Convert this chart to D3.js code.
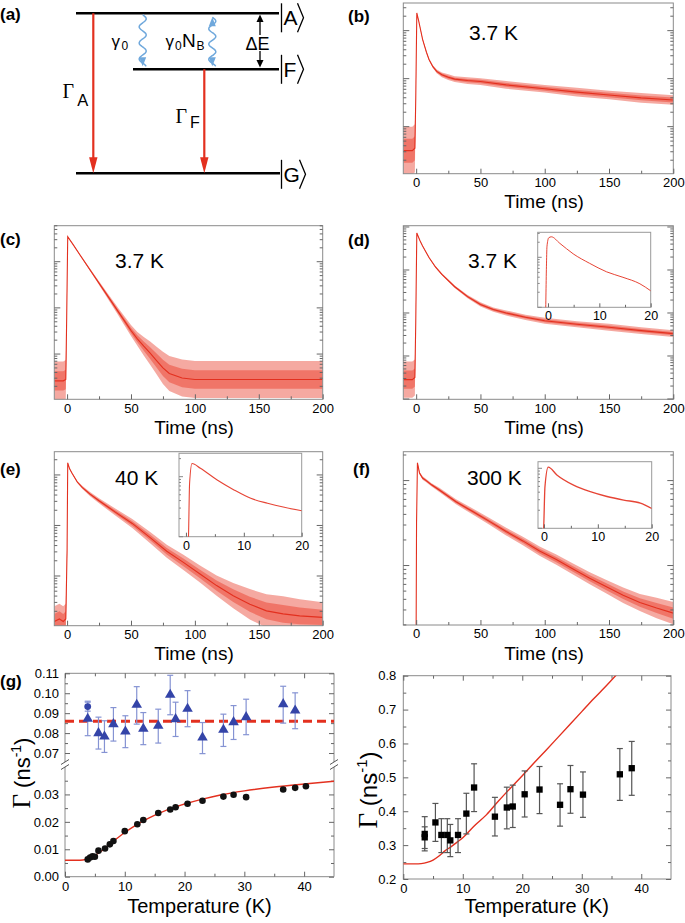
<!DOCTYPE html>
<html><head><meta charset="utf-8">
<script src="https://cdn.jsdelivr.net/npm/d3@7/dist/d3.min.js"></script>
<style>
html,body{margin:0;padding:0;background:#fff;}
svg{display:block;}
</style></head>
<body>
<svg id="fig" width="685" height="923" xmlns="http://www.w3.org/2000/svg"></svg>
<script>
// ================= DATA =================
// Decay traces: time (ns), log10 of counts, noise half-width (decades)
const bTime  = [-10,-6,-3,-1,-0.3,0.5,2,5,8,10,13,16,20,25,30,40,50,70,100,125,150,175,200];
const bLog   = [0.5,0.5,0.5,0.55,1.6,3.37,3.2,2.82,2.55,2.40,2.25,2.15,2.08,2.03,1.99,1.96,1.94,1.87,1.79,1.72,1.66,1.60,1.555];
const bNoise = [0.5,0.5,0.5,0.5,0.1,0.01,0.01,0.02,0.02,0.02,0.03,0.04,0.05,0.06,0.06,0.07,0.07,0.08,0.08,0.09,0.09,0.1,0.1];

const cTime  = [-10,-6,-3,-1,-0.3,0.5,5,10,20,30,40,50,55,60,65,70,75,80,90,100,125,150,175,200];
const cLog   = [0.42,0.42,0.42,0.45,1.8,3.54,3.36,3.15,2.74,2.33,1.92,1.51,1.33,1.17,1.02,0.86,0.70,0.58,0.48,0.45,0.45,0.45,0.45,0.45];
const cNoise = [0.42,0.42,0.42,0.42,0.1,0.01,0.01,0.015,0.03,0.05,0.08,0.12,0.15,0.2,0.25,0.3,0.35,0.38,0.4,0.4,0.4,0.4,0.4,0.4];

const dTime  = [-10,-6,-3,-1,-0.3,0.5,3,5,10,15,20,30,40,50,60,70,85,100,125,150,175,200];
const dLog   = [0.45,0.45,0.45,0.5,1.8,3.86,3.68,3.56,3.29,3.07,2.90,2.61,2.38,2.20,2.08,2.00,1.90,1.82,1.74,1.67,1.59,1.52];
const dNoise = [0.42,0.42,0.42,0.42,0.1,0.01,0.01,0.01,0.015,0.02,0.025,0.03,0.04,0.05,0.05,0.06,0.06,0.07,0.07,0.08,0.08,0.08];

const eTime  = [-10,-6,-3,-1,0,0.5,2,4,8,12,18,25,38,51,65,78,91,104,117,130,143,156,169,182,200];
const eLog   = [0.1,0.15,0.1,0.15,1.5,3.24,3.12,3.03,2.86,2.75,2.62,2.49,2.26,2.04,1.76,1.49,1.27,1.04,0.81,0.61,0.44,0.31,0.25,0.21,0.18];
const eNoise = [0.3,0.3,0.3,0.3,0.1,0.01,0.01,0.015,0.02,0.03,0.04,0.05,0.07,0.09,0.11,0.13,0.15,0.17,0.2,0.25,0.3,0.33,0.35,0.33,0.3];

const fTime  = [-10,-1,0,0.3,1,2.6,5,7.8,12,18,31,44,57,70,83,96,109,122,135,148,161,174,187,200];
const fLog   = [0.1,0.1,0.3,1.5,2.21,2.09,2.03,2.0,1.95,1.89,1.75,1.635,1.52,1.40,1.29,1.17,1.07,0.96,0.85,0.75,0.65,0.565,0.50,0.44];
const fNoise = [0,0,0,0.02,0.01,0.015,0.02,0.02,0.02,0.025,0.03,0.035,0.04,0.045,0.05,0.055,0.06,0.065,0.07,0.08,0.09,0.1,0.12,0.13];

// insets (first 20 ns)
const dInTime = [-2,-0.5,-0.3,-0.2,0.15,0.65,2.3,4.9,8.1,11.4,14.6,17.9,20];
const dInLog  = [-0.5,-0.2,0.81,1.21,1.39,1.41,1.28,1.07,0.88,0.71,0.60,0.47,0.33];
const eInTime = [-1.2,0.4,0.63,1.05,2.5,5.4,8.3,11.2,14.1,17,20];
const eInLog  = [-0.5,-0.1,0.89,1.22,1.14,0.945,0.78,0.64,0.557,0.49,0.433];
const fInTime = [-1.1,-0.1,0.19,0.8,2.4,5.5,8.6,11.7,14.8,17.9,20];
const fInLog  = [-0.5,-0.1,0.69,1.02,0.89,0.72,0.61,0.53,0.47,0.42,0.33];

const timeTicks = [0,50,100,150,200];
const insetTicks = [0,10,20];

// (g) left: blue triangles (upper), blue circle, black dots (lower), fit
const gTriT  = [3.8,5.6,6.6,8.1,10.1,12.0,13.1,15.6,17.6,18.5,20.5,23.0,26.5,28.2,30.3,36.5,38.5];
const gTriV  = [0.0872,0.080,0.0783,0.0845,0.0808,0.0942,0.0822,0.0837,0.0992,0.087,0.0922,0.0778,0.0817,0.0855,0.088,0.0945,0.0913];
const gTriLo = [0.0787,0.072,0.0703,0.076,0.0727,0.0845,0.0742,0.075,0.0892,0.0783,0.0832,0.0697,0.0733,0.0768,0.0792,0.085,0.0822];
const gTriHi = [0.0955,0.088,0.0862,0.0928,0.0887,0.1033,0.0903,0.092,0.109,0.0955,0.1013,0.0853,0.0895,0.0938,0.097,0.1035,0.1002];
const gCircT = [3.8], gCircV = [0.0933], gCircLo = [0.0910], gCircHi = [0.0960];
const gDashV = 0.086;
const gDotT = [3.8,4.2,4.6,5.0,5.6,6.7,7.5,8.1,10.0,12.1,13.1,15.6,17.6,18.5,20.5,23.0,26.5,28.2,30.3,36.5,38.5,40.3];
const gDotV = [0.0063,0.0070,0.0074,0.0073,0.0095,0.0103,0.0118,0.0130,0.0166,0.0191,0.0207,0.0232,0.0245,0.0253,0.0266,0.0277,0.0292,0.0299,0.0290,0.0318,0.0324,0.0330];
const gFitT = [0,1,2,3,3.5,4,5,6,7,8,9,10,12,14,16,18,20,23,26,30,35,40,45];
const gFitV = [0.0060,0.0060,0.0060,0.0061,0.0063,0.0066,0.0078,0.0092,0.0110,0.0128,0.0145,0.0161,0.0190,0.0214,0.0234,0.0251,0.0265,0.0283,0.0298,0.0313,0.0327,0.0338,0.0348];
const gUpperTicks = [0.07,0.08,0.09,0.10,0.11];
const gLowerTicks = [0.00,0.01,0.02,0.03];
const tempTicks = [0,10,20,30,40];

// (g) right: black squares with error bars, fit
const rSqT  = [3.6,3.6,5.4,6.4,7.4,7.9,9.2,10.6,11.9,15.4,17.4,18.4,20.4,22.9,26.35,28.1,30.2,36.4,38.4];
const rSqV  = [0.333,0.323,0.367,0.330,0.330,0.314,0.330,0.393,0.470,0.384,0.411,0.414,0.450,0.464,0.419,0.465,0.449,0.509,0.527];
const rSqLo = [0.283,0.290,0.311,0.278,0.278,0.266,0.278,0.333,0.399,0.327,0.348,0.352,0.383,0.393,0.356,0.394,0.382,0.432,0.447];
const rSqHi = [0.384,0.354,0.423,0.378,0.378,0.361,0.378,0.453,0.540,0.441,0.471,0.477,0.519,0.532,0.481,0.535,0.516,0.585,0.606];
const rFitT = [0,2,3,4,5,6,7,8,9,10,12,14,16,18,20,22,24,26,28,30,32,34,36];
const rFitV = [0.2445,0.2445,0.2455,0.249,0.256,0.268,0.283,0.295,0.308,0.322,0.358,0.39,0.43,0.468,0.505,0.543,0.58,0.618,0.656,0.694,0.732,0.768,0.806];
const rTicks = [0.2,0.3,0.4,0.5,0.6,0.7,0.8];

// ================= DRAWING =================
const FONT = '"Liberation Sans", Arial, Helvetica, sans-serif';
const SERIF = '"Liberation Serif", "Times New Roman", serif';
const RED = '#e3301f', BAND = '#ec5443', FRAME = '#8a8a8a', TICK = '#666';
const svg = d3.select('#fig').attr('font-family', FONT);
const defs = svg.append('defs');
let clipN = 0;
function clip(x0, y0, x1, y1) {
  const id = 'clip' + (clipN++);
  defs.append('clipPath').attr('id', id).append('rect')
    .attr('x', x0).attr('y', y0).attr('width', x1 - x0).attr('height', y1 - y0);
  return `url(#${id})`;
}
function txt(g, x, y, s, size, opts = {}) {
  return g.append('text').attr('x', x).attr('y', y).attr('font-size', size)
    .attr('text-anchor', opts.anchor || 'start').attr('font-weight', opts.weight || 'normal')
    .attr('font-family', opts.family || FONT).attr('fill', '#000').text(s);
}
function styleAxis(sel, size) {
  sel.attr('font-family', FONT);
  sel.select('.domain').remove();
  sel.selectAll('line').attr('stroke', TICK);
  sel.selectAll('text').attr('font-size', size).attr('fill', '#000');
}
function logTicksV(g, y, xEdge, dir) {
  y.ticks().forEach(v => {
    const l = Math.log10(v);
    const major = Math.abs(l - Math.round(l)) < 1e-6;
    const len = major ? 6 : 3;
    g.append('line').attr('x1', xEdge).attr('x2', xEdge + dir * len)
      .attr('y1', y(v)).attr('y2', y(v)).attr('stroke', TICK).attr('stroke-width', 1);
  });
}
function panelLabel(x, y, s) { txt(svg, x, y, s, 17, { weight: 'bold' }); }

function decay(p) {
  const x = d3.scaleLinear().domain([-10, 200]).range([p.x0, p.x1]);
  const y = d3.scaleLog().domain([Math.pow(10, p.lo), Math.pow(10, p.hi)]).range([p.y1, p.y0]);
  const g = svg.append('g');
  const data = p.t.map((t, i) => ({ t, L: p.L[i], n: p.n[i] }));
  const pg = g.append('g').attr('clip-path', clip(p.x0, p.y0, p.x1, p.y1));
  // outer (sparse) and inner (dense) noise envelopes
  pg.append('path').datum(data)
    .attr('d', d3.area().x(d => x(d.t)).y0(d => y(Math.pow(10, d.L - d.n))).y1(d => y(Math.pow(10, d.L + d.n))))
    .attr('fill', BAND).attr('opacity', 0.5);
  pg.append('path').datum(data)
    .attr('d', d3.area().x(d => x(d.t)).y0(d => y(Math.pow(10, d.L - d.n * 0.5))).y1(d => y(Math.pow(10, d.L + d.n * 0.5))))
    .attr('fill', BAND).attr('opacity', 0.6);
  pg.append('path').datum(data)
    .attr('d', d3.line().x(d => x(d.t)).y(d => y(Math.pow(10, d.L))))
    .attr('fill', 'none').attr('stroke', RED).attr('stroke-width', 1.1);
  g.append('rect').attr('x', p.x0).attr('y', p.y0).attr('width', p.x1 - p.x0).attr('height', p.y1 - p.y0)
    .attr('fill', 'none').attr('stroke', FRAME).attr('stroke-width', 1);
  const xa = g.append('g').attr('transform', `translate(0,${p.y1})`)
    .call(d3.axisBottom(x).tickValues(timeTicks).tickSize(-5).tickPadding(4).tickSizeOuter(0));
  styleAxis(xa, 13);
  const xm = g.append('g').attr('transform', `translate(0,${p.y1})`)
    .call(d3.axisBottom(x).tickValues([25, 75, 125, 175]).tickSize(-3).tickFormat('').tickSizeOuter(0));
  styleAxis(xm, 13);
  logTicksV(g, y, p.x0, 1);
  logTicksV(g, y, p.x1, -1);
  txt(g, p.xl, p.xlY, 'Time (ns)', 19, { anchor: 'middle' });
  txt(g, p.tx, p.ty, p.temp, 21);
  if (p.inset) inset(p.inset);
}

function inset(q) {
  const x = d3.scaleLinear().domain([q.xmin, 20]).range([q.x0, q.x1]);
  const y = d3.scaleLog().domain([1, Math.pow(10, q.hi)]).range([q.y1, q.y0]);
  const g = svg.append('g');
  g.append('rect').attr('x', q.x0).attr('y', q.y0).attr('width', q.x1 - q.x0).attr('height', q.y1 - q.y0)
    .attr('fill', '#fff').attr('stroke', '#999').attr('stroke-width', 1);
  const data = q.t.map((t, i) => ({ t, L: q.L[i] }));
  g.append('g').attr('clip-path', clip(q.x0, q.y0, q.x1, q.y1)).append('path').datum(data)
    .attr('d', d3.line().curve(d3.curveMonotoneX).x(d => x(d.t)).y(d => y(Math.pow(10, d.L))))
    .attr('fill', 'none').attr('stroke', RED).attr('stroke-width', q.w || 1).attr('opacity', 0.9);
  const xa = g.append('g').attr('transform', `translate(0,${q.y1})`)
    .call(d3.axisBottom(x).tickValues(insetTicks).tickSize(-4).tickPadding(4).tickSizeOuter(0));
  styleAxis(xa, 12.5);
  const xm = g.append('g').attr('transform', `translate(0,${q.y1})`)
    .call(d3.axisBottom(x).tickValues([5, 15]).tickSize(-2.5).tickFormat('').tickSizeOuter(0));
  styleAxis(xm, 12);
  y.ticks().forEach(v => {
    const l = Math.log10(v);
    const major = Math.abs(l - Math.round(l)) < 1e-6;
    g.append('line').attr('x1', q.x0).attr('x2', q.x0 + (major ? 4 : 2))
      .attr('y1', y(v)).attr('y2', y(v)).attr('stroke', '#888');
  });
}

// ---------- (a) level diagram ----------
(function () {
  const g = svg.append('g');
  panelLabel(0, 20, '(a)');
  const lvA = 13.3, lvF = 69.3, lvG = 173.3;
  g.append('line').attr('x1', 76).attr('x2', 279).attr('y1', lvA).attr('y2', lvA).attr('stroke', '#000').attr('stroke-width', 2.6);
  g.append('line').attr('x1', 133).attr('x2', 279).attr('y1', lvF).attr('y2', lvF).attr('stroke', '#000').attr('stroke-width', 2.6);
  g.append('line').attr('x1', 76).attr('x2', 280).attr('y1', lvG).attr('y2', lvG).attr('stroke', '#000').attr('stroke-width', 2.6);
  function ket(cy, s) {
    g.append('line').attr('x1', 281.5).attr('x2', 281.5).attr('y1', cy - 14.5).attr('y2', cy + 14.5).attr('stroke', '#000').attr('stroke-width', 1.3);
    txt(g, 283.5, cy + 7.5, s, 21);
    const bx = s === 'G' ? 299.5 : 297.5;
    g.append('path').attr('d', `M${bx},${cy - 14.5} L${bx + 6},${cy} L${bx},${cy + 14.5}`).attr('fill', 'none').attr('stroke', '#000').attr('stroke-width', 1.3);
  }
  ket(lvA + 4.5, 'A'); ket(lvF, 'F'); ket(lvG + 1, 'G');
  function redArrow(x, y1, y2) {
    g.append('line').attr('x1', x).attr('x2', x).attr('y1', y1).attr('y2', y2 - 14).attr('stroke', RED).attr('stroke-width', 2.2);
    g.append('path').attr('d', `M${x - 4.2},${y2 - 16} L${x + 4.2},${y2 - 16} L${x},${y2} Z`).attr('fill', RED);
  }
  redArrow(93.3, lvA, lvG);
  redArrow(204.3, lvF, lvG);
  txt(g, 62.5, 98.3, 'Γ', 20, { family: SERIF });
  txt(g, 77.3, 106, 'A', 16.5);
  txt(g, 175.5, 123.3, 'Γ', 20, { family: SERIF });
  txt(g, 190, 128.3, 'F', 16);
  const BLUE = '#6fa8dc';
  function wavy(cx, y1, y2, headTop, headBot) {
    const pts = d3.range(0, 1.0001, 0.02).map(f => [cx + 3.6 * Math.sin(f * Math.PI * 2 * 3.2), y1 + f * (y2 - y1)]);
    g.append('path').attr('d', d3.line().curve(d3.curveBasis)(pts)).attr('fill', 'none').attr('stroke', BLUE).attr('stroke-width', 1.5);
    if (headBot) g.append('path').attr('d', `M${cx - 3.5},${y2 - 9} L${cx + 3.5},${y2 - 9} L${cx},${y2} Z`).attr('fill', BLUE);
    if (headTop) g.append('path').attr('d', `M${cx - 3.5},${y1 + 9} L${cx + 3.5},${y1 + 9} L${cx},${y1} Z`).attr('fill', BLUE);
  }
  wavy(142.7, lvA + 1.5, lvF - 3, false, true);
  wavy(212.3, lvA + 4, lvF - 3, true, true);
  txt(g, 111.5, 46.5, 'γ', 17, { family: FONT });
  txt(g, 121.5, 50, '0', 12);
  txt(g, 165.5, 46.5, 'γ', 17);
  txt(g, 175, 50, '0', 12);
  txt(g, 182, 46.5, 'N', 19);
  txt(g, 196.5, 50, 'B', 12);
  txt(g, 245.5, 50, 'ΔE', 18);
  g.append('line').attr('x1', 260).attr('x2', 260).attr('y1', 20).attr('y2', 35).attr('stroke', '#000').attr('stroke-width', 1.3);
  g.append('path').attr('d', `M256.5,22 L263.5,22 L260,14.5 Z`).attr('fill', '#000');
  g.append('line').attr('x1', 260).attr('x2', 260).attr('y1', 51).attr('y2', 62).attr('stroke', '#000').attr('stroke-width', 1.3);
  g.append('path').attr('d', `M256.5,60 L263.5,60 L260,67.5 Z`).attr('fill', '#000');
})();

// ---------- (b)-(f) ----------
panelLabel(348, 22, '(b)');
decay({ x0: 403.3, x1: 673.3, y0: 3, y1: 173.7, lo: 0.02, hi: 3.576, t: bTime, L: bLog, n: bNoise,
  xl: 544, xlY: 207.5, temp: '3.7 K', tx: 469, ty: 40 });
panelLabel(0, 245, '(c)');
decay({ x0: 54.3, x1: 322.7, y0: 225.7, y1: 399.3, lo: 0.02, hi: 3.78, t: cTime, L: cLog, n: cNoise,
  xl: 194, xlY: 434, temp: '3.7 K', tx: 115, ty: 268 });
panelLabel(348, 246, '(d)');
decay({ x0: 403.3, x1: 673.3, y0: 225.7, y1: 399.3, lo: -0.007, hi: 4.03, t: dTime, L: dLog, n: dNoise,
  xl: 544, xlY: 434, temp: '3.7 K', tx: 468, ty: 268,
  inset: { x0: 537.7, x1: 650.7, y0: 232.3, y1: 307.3, xmin: -2, hi: 1.5, t: dInTime, L: dInLog, w: 1 } });
panelLabel(0, 475, '(e)');
decay({ x0: 54.3, x1: 322.7, y0: 451.7, y1: 625.7, lo: 0.016, hi: 3.46, t: eTime, L: eLog, n: eNoise,
  xl: 194, xlY: 659.5, temp: '40 K', tx: 115, ty: 485,
  inset: { x0: 179, x1: 301.7, y0: 453.3, y1: 536.7, xmin: -1.2, hi: 1.39, t: eInTime, L: eInLog, w: 1.1 } });
panelLabel(353, 475, '(f)');
decay({ x0: 403.3, x1: 673.3, y0: 451.7, y1: 625, lo: 0.30, hi: 2.34, t: fTime, L: fLog, n: fNoise,
  xl: 544, xlY: 659.5, temp: '300 K', tx: 467, ty: 485,
  inset: { x0: 538, x1: 651.7, y0: 461.7, y1: 528.3, xmin: -1.1, hi: 1.11, t: fInTime, L: fInLog, w: 1.3 } });

// ---------- (g) left: broken axis ----------
(function () {
  panelLabel(0, 687, '(g)');
  const X0 = 65, X1 = 334, TOP = 673.3, BOT = 876.7, BRK1 = 762, BRK2 = 767;
  const x = d3.scaleLinear().domain([0, 45]).range([X0, X1]);
  const yU = d3.scaleLinear().domain([0.0655, 0.11]).range([BRK1, TOP]);
  const yL = d3.scaleLinear().domain([0, 0.040]).range([BOT, BRK2]);
  const g = svg.append('g');
  const fl = (x1, y1, x2, y2) => g.append('line').attr('x1', x1).attr('y1', y1).attr('x2', x2).attr('y2', y2).attr('stroke', FRAME).attr('stroke-width', 1);
  fl(X0, TOP, X1, TOP); fl(X0, BOT, X1, BOT);
  fl(X0, TOP, X0, BRK1); fl(X0, BRK2, X0, BOT);
  fl(X1, TOP, X1, BRK1); fl(X1, BRK2, X1, BOT);
  [X0, X1].forEach(xx => [BRK1, BRK2].forEach(yy => {
    g.append('line').attr('x1', xx - 4).attr('y1', yy + 2.5).attr('x2', xx + 4).attr('y2', yy - 2.5).attr('stroke', '#555').attr('stroke-width', 1);
  }));
  const ax = (gen, tr, size) => { const s = g.append('g').attr('transform', tr).call(gen); styleAxis(s, size); return s; };
  ax(d3.axisBottom(x).tickValues(tempTicks).tickSize(-5).tickPadding(5).tickSizeOuter(0), `translate(0,${BOT})`, 13);
  ax(d3.axisBottom(x).tickValues([5, 15, 25, 35]).tickSize(-3).tickFormat('').tickSizeOuter(0), `translate(0,${BOT})`, 13);
  ax(d3.axisTop(x).tickValues(tempTicks).tickSize(-5).tickFormat('').tickSizeOuter(0), `translate(0,${TOP})`, 13);
  ax(d3.axisTop(x).tickValues([5, 15, 25, 35]).tickSize(-3).tickFormat('').tickSizeOuter(0), `translate(0,${TOP})`, 13);
  ax(d3.axisLeft(yU).tickValues(gUpperTicks).tickSize(-5).tickPadding(6).tickFormat(d3.format('.2f')).tickSizeOuter(0), `translate(${X0},0)`, 13);
  ax(d3.axisLeft(yU).tickValues([0.075, 0.085, 0.095, 0.105]).tickSize(-3).tickFormat('').tickSizeOuter(0), `translate(${X0},0)`, 13);
  ax(d3.axisLeft(yL).tickValues(gLowerTicks).tickSize(-5).tickPadding(6).tickFormat(d3.format('.2f')).tickSizeOuter(0), `translate(${X0},0)`, 13);
  ax(d3.axisLeft(yL).tickValues([0.005, 0.015, 0.025, 0.035]).tickSize(-3).tickFormat('').tickSizeOuter(0), `translate(${X0},0)`, 13);
  ax(d3.axisRight(yU).tickValues(gUpperTicks).tickSize(-5).tickFormat('').tickSizeOuter(0), `translate(${X1},0)`, 13);
  ax(d3.axisRight(yU).tickValues([0.075, 0.085, 0.095, 0.105]).tickSize(-3).tickFormat('').tickSizeOuter(0), `translate(${X1},0)`, 13);
  ax(d3.axisRight(yL).tickValues(gLowerTicks).tickSize(-5).tickFormat('').tickSizeOuter(0), `translate(${X1},0)`, 13);
  ax(d3.axisRight(yL).tickValues([0.005, 0.015, 0.025, 0.035]).tickSize(-3).tickFormat('').tickSizeOuter(0), `translate(${X1},0)`, 13);
  const fit = gFitT.map((t, i) => [t, gFitV[i]]);
  g.append('g').attr('clip-path', clip(X0, BRK2, X1, BOT)).append('path').datum(fit)
    .attr('d', d3.line().curve(d3.curveMonotoneX).x(d => x(d[0])).y(d => yL(d[1])))
    .attr('fill', 'none').attr('stroke', RED).attr('stroke-width', 1.4);
  g.append('path').datum([[0, gDashV], [45, gDashV]])
    .attr('d', d3.line().x(d => x(d[0])).y(d => yU(d[1])))
    .attr('stroke', RED).attr('stroke-width', 3).attr('stroke-dasharray', '9,5').attr('fill', 'none');
  const EB = '#8593d3', BL = '#3444a8';
  function errbar(gg, xs, lo, hi, ysc, col, w) {
    gg.append('line').attr('x1', xs).attr('x2', xs).attr('y1', ysc(lo)).attr('y2', ysc(hi)).attr('stroke', col).attr('stroke-width', w);
    [lo, hi].forEach(v => gg.append('line').attr('x1', xs - 3).attr('x2', xs + 3).attr('y1', ysc(v)).attr('y2', ysc(v)).attr('stroke', col).attr('stroke-width', w));
  }
  gCircT.forEach((t, i) => errbar(g, x(t), gCircLo[i], gCircHi[i], yU, EB, 1.2));
  gTriT.forEach((t, i) => errbar(g, x(t), gTriLo[i], gTriHi[i], yU, EB, 1.2));
  gCircT.forEach((t, i) => g.append('circle').attr('cx', x(t)).attr('cy', yU(gCircV[i])).attr('r', 3.4).attr('fill', BL));
  const tri = d3.symbol().type(d3.symbolTriangle).size(48);
  gTriT.forEach((t, i) => g.append('path').attr('d', tri()).attr('transform', `translate(${x(t)},${yU(gTriV[i])})`).attr('fill', BL));
  gDotT.forEach((t, i) => g.append('circle').attr('cx', x(t)).attr('cy', yL(gDotV[i])).attr('r', 3.3).attr('fill', '#111'));
  txt(g, 199.5, 912.5, 'Temperature (K)', 20, { anchor: 'middle' });
  const yt = g.append('text').attr('transform', 'translate(30,773) rotate(-90)').attr('text-anchor', 'middle').attr('font-size', 22).attr('fill', '#000');
  yt.append('tspan').attr('font-family', SERIF).attr('font-size', 25).text('Γ');
  yt.append('tspan').text(' (ns');
  yt.append('tspan').attr('font-size', 14).attr('dy', -9).text('-1');
  yt.append('tspan').attr('dy', 9).text(')');
})();

// ---------- (g) right ----------
(function () {
  const X0 = 403.3, X1 = 671, TOP = 675.7, BOT = 879;
  const x = d3.scaleLinear().domain([0, 45]).range([X0, X1]);
  const y = d3.scaleLinear().domain([0.2, 0.8]).range([BOT, TOP]);
  const g = svg.append('g');
  g.append('rect').attr('x', X0).attr('y', TOP).attr('width', X1 - X0).attr('height', BOT - TOP).attr('fill', 'none').attr('stroke', FRAME);
  const ax = (gen, tr, size) => { const s = g.append('g').attr('transform', tr).call(gen); styleAxis(s, size); return s; };
  const minorY = [0.25, 0.35, 0.45, 0.55, 0.65, 0.75];
  ax(d3.axisBottom(x).tickValues(tempTicks).tickSize(-5).tickPadding(5).tickSizeOuter(0), `translate(0,${BOT})`, 13);
  ax(d3.axisBottom(x).tickValues([5, 15, 25, 35]).tickSize(-3).tickFormat('').tickSizeOuter(0), `translate(0,${BOT})`, 13);
  ax(d3.axisTop(x).tickValues(tempTicks).tickSize(-5).tickFormat('').tickSizeOuter(0), `translate(0,${TOP})`, 13);
  ax(d3.axisTop(x).tickValues([5, 15, 25, 35]).tickSize(-3).tickFormat('').tickSizeOuter(0), `translate(0,${TOP})`, 13);
  ax(d3.axisLeft(y).tickValues(rTicks).tickSize(-5).tickPadding(7).tickFormat(d3.format('.1f')).tickSizeOuter(0), `translate(${X0},0)`, 13);
  ax(d3.axisLeft(y).tickValues(minorY).tickSize(-3).tickFormat('').tickSizeOuter(0), `translate(${X0},0)`, 13);
  ax(d3.axisRight(y).tickValues(rTicks).tickSize(-5).tickFormat('').tickSizeOuter(0), `translate(${X1},0)`, 13);
  ax(d3.axisRight(y).tickValues(minorY).tickSize(-3).tickFormat('').tickSizeOuter(0), `translate(${X1},0)`, 13);
  const fit = rFitT.map((t, i) => [t, rFitV[i]]);
  g.append('g').attr('clip-path', clip(X0, TOP, X1, BOT)).append('path').datum(fit)
    .attr('d', d3.line().curve(d3.curveMonotoneX).x(d => x(d[0])).y(d => y(d[1])))
    .attr('fill', 'none').attr('stroke', RED).attr('stroke-width', 1.4);
  rSqT.forEach((t, i) => {
    const xs = x(t);
    g.append('line').attr('x1', xs).attr('x2', xs).attr('y1', y(rSqLo[i])).attr('y2', y(rSqHi[i])).attr('stroke', '#555').attr('stroke-width', 1.2);
    [rSqLo[i], rSqHi[i]].forEach(v => g.append('line').attr('x1', xs - 3).attr('x2', xs + 3).attr('y1', y(v)).attr('y2', y(v)).attr('stroke', '#555').attr('stroke-width', 1.2));
  });
  const sq = d3.symbol().type(d3.symbolSquare).size(40);
  rSqT.forEach((t, i) => g.append('path').attr('d', sq()).attr('transform', `translate(${x(t)},${y(rSqV[i])})`).attr('fill', '#000'));
  txt(g, 536.7, 912.5, 'Temperature (K)', 20, { anchor: 'middle' });
  const yt = g.append('text').attr('transform', 'translate(377,790) rotate(-90)').attr('text-anchor', 'middle').attr('font-size', 24).attr('fill', '#000');
  yt.append('tspan').attr('font-family', SERIF).attr('font-size', 27).text('Γ');
  yt.append('tspan').text(' (ns');
  yt.append('tspan').attr('font-size', 15).attr('dy', -10).text('-1');
  yt.append('tspan').attr('dy', 10).text(')');
})();
</script>
</body></html>
